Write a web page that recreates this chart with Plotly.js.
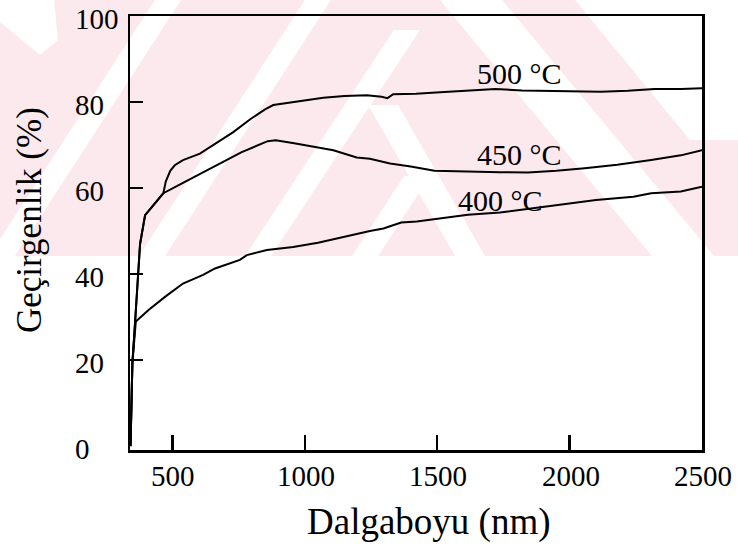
<!DOCTYPE html>
<html>
<head>
<meta charset="utf-8">
<script src="https://cdn.plot.ly/plotly-3.0.1.min.js"></script>
<style>
  html, body { margin: 0; padding: 0; background: #ffffff; }
  #chart { width: 738px; height: 548px; }
</style>
</head>
<body>
<div id="chart"></div>
<script>
// Transmittance spectra of films annealed at three temperatures.
// Wavelength in nm, transmittance in %.
const wl500 = [342, 349, 359, 369, 378, 397, 434, 466, 475, 492, 509, 540, 604, 650, 730, 794, 850, 881, 944, 1000, 1070, 1150, 1234, 1290, 1312, 1334, 1420, 1511, 1600, 1720, 1820, 1918, 2010, 2118, 2220, 2321, 2420, 2500];
const tr500 = [0, 19.3, 28.6, 37.8, 47.0, 53.7, 56.4, 58.8, 61.5, 64.0, 65.3, 66.5, 68.0, 69.8, 73.0, 76.0, 78.3, 79.3, 79.9, 80.5, 81.0, 81.4, 81.6, 81.2, 80.9, 81.8, 81.9, 82.3, 82.6, 83.0, 82.7, 82.6, 82.5, 82.4, 82.6, 83.0, 83.0, 83.2];

const wl450 = [342, 349, 359, 369, 378, 397, 434, 466, 540, 640, 760, 860, 890, 960, 1040, 1108, 1196, 1246, 1322, 1400, 1490, 1600, 1737, 1843, 1950, 2057, 2180, 2308, 2420, 2500];
const tr450 = [0, 19.3, 28.6, 37.8, 47.0, 53.7, 56.4, 58.8, 61.2, 64.5, 68.3, 70.9, 71.1, 70.4, 69.5, 68.8, 67.1, 66.8, 65.7, 65.0, 64.0, 63.8, 63.7, 63.6, 64.0, 64.6, 65.4, 66.5, 67.6, 68.8];

const wl400 = [342, 349, 362, 409, 472, 540, 616, 661, 755, 781, 857, 919, 956, 1050, 1134, 1246, 1297, 1364, 1423, 1520, 1616, 1737, 1850, 1994, 2100, 2241, 2308, 2420, 2500];
const tr400 = [0, 19.3, 29.0, 31.6, 34.7, 37.8, 39.8, 41.3, 43.3, 44.4, 45.6, 46.0, 46.3, 47.3, 48.5, 50.0, 50.6, 52.0, 52.2, 53.0, 53.8, 54.3, 55.2, 56.4, 57.2, 58.0, 58.8, 59.2, 60.3];

const xTickVals = [500, 1000, 1500, 2000, 2500];
const yTickVals = [0, 20, 40, 60, 80, 100];
const curveNames = ['500 °C', '450 °C', '400 °C'];
const xTitle = 'Dalgaboyu (nm)';
const yTitle = 'Geçirgenlik (%)';

const serif = 'Liberation Serif';
const ink = '#000000';

// plot box in pixels, used to place decorations in paper units
const box = { l: 130, r: 702, t: 16, b: 450 };
const px = (x, y) => [((x - box.l) / (box.r - box.l)).toFixed(4), ((box.b - y) / (box.b - box.t)).toFixed(4)];
const poly = pts => 'M ' + pts.map(p => px(p[0], p[1]).join(',')).join(' L ') + ' Z';

// pale pink banner with white diagonal strokes behind the top of the figure
const pink = '#fce9ed';
const bands = [
  [[0, 0], [54, 0], [58, 40], [40, 55], [0, 22]],
  [[-11, 256], [15, 256], [181, 0], [155, 0]],
  [[139, 256], [165, 256], [331, 0], [305, 0]],
  [[245, 256], [271, 256], [420, 30], [394, 30]],
  [[352, 256], [378, 256], [430, 176], [404, 176]],
  [[440, 0], [502, 0], [714, 256], [652, 256]],
  [[368, 105], [398, 105], [485, 256], [455, 256]],
  [[575, 0], [738, 0], [738, 140], [690, 140]]
];
const shapes = [{
  type: 'rect', xref: 'paper', yref: 'paper', layer: 'below',
  x0: px(0, 0)[0], x1: px(738, 0)[0], y0: px(0, 256)[1], y1: px(0, 0)[1],
  fillcolor: pink, line: { width: 0 }
}].concat(bands.map(b => ({
  type: 'path', xref: 'paper', yref: 'paper', layer: 'below',
  path: poly(b), fillcolor: '#ffffff', line: { width: 0 }
})));

const lineStyle = { color: ink, width: 2 };
const traces = [
  { x: wl500, y: tr500, name: curveNames[0] },
  { x: wl450, y: tr450, name: curveNames[1] },
  { x: wl400, y: tr400, name: curveNames[2] }
].map(t => Object.assign(t, { type: 'scatter', mode: 'lines', line: lineStyle, hoverinfo: 'skip' }));

// curve labels
const annotations = [
  { text: curveNames[0], x: 1809, y: 86.7 },
  { text: curveNames[1], x: 1811, y: 67.7 },
  { text: curveNames[2], x: 1739, y: 57.0 }
].map(a => Object.assign(a, {
  xref: 'x', yref: 'y', showarrow: false, xanchor: 'center', yanchor: 'middle',
  font: { family: serif, size: 30, color: ink }
}));

// y tick labels, left aligned and sitting a little below their ticks
yTickVals.forEach(v => annotations.push({
  text: String(v), xref: 'paper', yref: 'y', x: px(73, 0)[0], y: v, yshift: -3,
  xanchor: 'left', yanchor: 'middle', showarrow: false,
  font: { family: serif, size: 29, color: ink }
}));

// x tick labels
xTickVals.forEach(v => annotations.push({
  text: String(v), xref: 'x', yref: 'paper', x: v, y: px(0, 476)[1], xshift: 1,
  xanchor: 'center', yanchor: 'middle', showarrow: false,
  font: { family: serif, size: 29, color: ink }
}));

// axis titles
annotations.push({
  text: xTitle, xref: 'paper', yref: 'paper', x: px(429, 0)[0], y: px(0, 522)[1],
  xanchor: 'center', yanchor: 'middle', showarrow: false,
  font: { family: serif, size: 37, color: ink }
});
annotations.push({
  text: yTitle, xref: 'paper', yref: 'paper', x: px(30, 0)[0], y: px(0, 220)[1],
  xanchor: 'center', yanchor: 'middle', showarrow: false, textangle: -90,
  font: { family: serif, size: 35, color: ink }
});

const axisCommon = {
  showgrid: false, zeroline: false, showline: true, mirror: true,
  linecolor: ink, linewidth: 2.5, ticks: 'inside', tickcolor: ink, tickwidth: 2.5,
  showticklabels: false
};

const layout = {
  width: 738, height: 548,
  margin: { l: box.l, r: 738 - box.r, t: box.t, b: 548 - box.b, pad: 0 },
  paper_bgcolor: '#ffffff', plot_bgcolor: 'rgba(0,0,0,0)',
  showlegend: false,
  font: { family: serif, color: ink },
  xaxis: Object.assign({}, axisCommon, {
    range: [340, 2500], tickmode: 'array', tickvals: xTickVals, ticklen: 15
  }),
  yaxis: Object.assign({}, axisCommon, {
    range: [-0.9, 100], tickmode: 'array', tickvals: [20, 40, 60, 80], ticklen: 13
  }),
  shapes: shapes,
  annotations: annotations
};

Plotly.newPlot('chart', traces, layout, { displayModeBar: false, staticPlot: true });
</script>
</body>
</html>
